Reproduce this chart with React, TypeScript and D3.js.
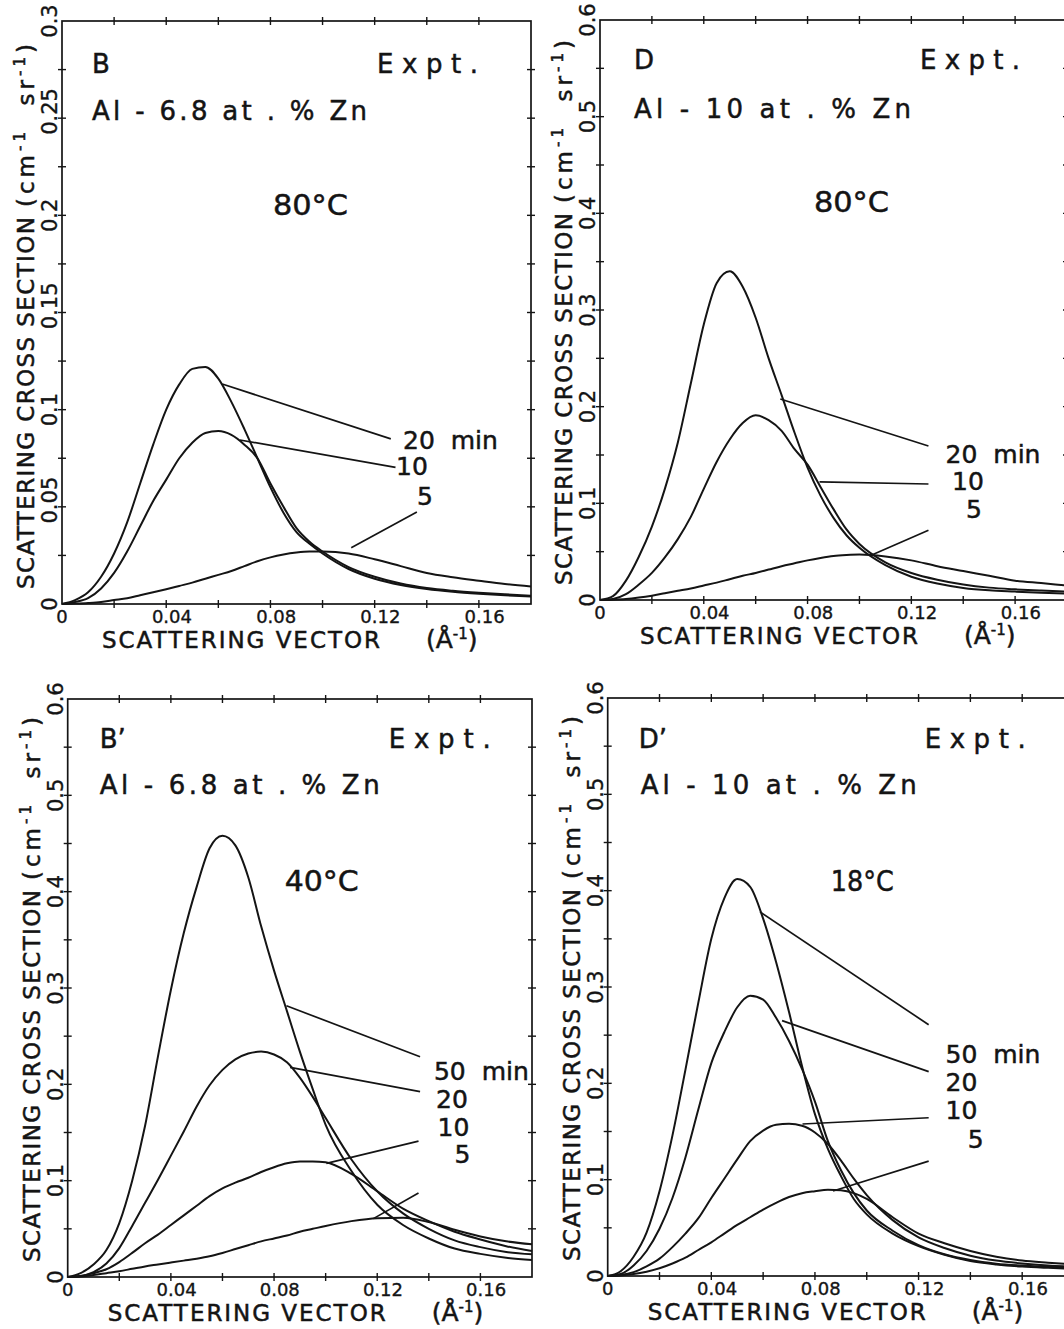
import React from 'react';
import * as d3 from 'd3';

// Scattering vector grid (Å⁻¹) shared by all curves
const Q = [0, 0.005, 0.01, 0.015, 0.02, 0.025, 0.03, 0.035, 0.04, 0.045, 0.05, 0.055, 0.06, 0.065, 0.07, 0.075, 0.08, 0.085, 0.09, 0.095, 0.1, 0.11, 0.12, 0.13, 0.14, 0.15, 0.16, 0.17, 0.18];

// Panel B : Al-6.8 at.% Zn, 80°C
const B_20 = [0, 0.002, 0.006, 0.014, 0.026, 0.042, 0.062, 0.082, 0.100, 0.113, 0.121, 0.122, 0.116, 0.104, 0.090, 0.075, 0.060, 0.047, 0.037, 0.031, 0.026, 0.018, 0.013, 0.0098, 0.0077, 0.0063, 0.0053, 0.0045, 0.0038];
const B_10 = [0, 0.001, 0.003, 0.008, 0.016, 0.027, 0.040, 0.053, 0.064, 0.075, 0.083, 0.088, 0.089, 0.087, 0.082, 0.075, 0.062, 0.050, 0.039, 0.032, 0.027, 0.019, 0.014, 0.0105, 0.0082, 0.0068, 0.0058, 0.005, 0.0043];
const B_5 = [0, 0.0002, 0.0005, 0.001, 0.002, 0.003, 0.0045, 0.006, 0.0076, 0.0093, 0.011, 0.013, 0.015, 0.017, 0.0195, 0.022, 0.024, 0.0255, 0.0265, 0.027, 0.027, 0.026, 0.023, 0.0195, 0.016, 0.0138, 0.012, 0.0103, 0.009];

// Panel D : Al-10 at.% Zn, 80°C
const D_20 = [0, 0.004, 0.020, 0.045, 0.076, 0.115, 0.163, 0.224, 0.285, 0.328, 0.340, 0.324, 0.292, 0.250, 0.212, 0.173, 0.137, 0.108, 0.085, 0.067, 0.054, 0.036, 0.024, 0.017, 0.0125, 0.010, 0.0087, 0.0075, 0.0065];
const D_10 = [0, 0.001, 0.006, 0.016, 0.028, 0.044, 0.063, 0.086, 0.115, 0.143, 0.166, 0.183, 0.191, 0.186, 0.175, 0.156, 0.140, 0.117, 0.094, 0.073, 0.058, 0.039, 0.028, 0.021, 0.016, 0.0128, 0.011, 0.0097, 0.0087];
const D_5 = [0, 0.0003, 0.001, 0.0025, 0.0045, 0.007, 0.0095, 0.012, 0.015, 0.018, 0.0215, 0.025, 0.028, 0.0315, 0.035, 0.038, 0.041, 0.0435, 0.0455, 0.0465, 0.047, 0.045, 0.041, 0.035, 0.030, 0.025, 0.020, 0.0175, 0.015];

// Panel B' : Al-6.8 at.% Zn, 40°C
const BP_50 = [0, 0.004, 0.013, 0.028, 0.056, 0.100, 0.157, 0.229, 0.298, 0.357, 0.405, 0.445, 0.458, 0.448, 0.415, 0.364, 0.318, 0.276, 0.234, 0.195, 0.158, 0.110, 0.075, 0.054, 0.040, 0.0295, 0.024, 0.020, 0.0177];
const BP_20 = [0, 0.001, 0.005, 0.014, 0.030, 0.053, 0.077, 0.101, 0.126, 0.151, 0.177, 0.199, 0.215, 0.226, 0.232, 0.234, 0.231, 0.223, 0.207, 0.187, 0.165, 0.122, 0.089, 0.066, 0.050, 0.038, 0.031, 0.026, 0.0235];
const BP_10 = [0, 0.001, 0.004, 0.008, 0.0155, 0.025, 0.035, 0.044, 0.054, 0.064, 0.074, 0.084, 0.092, 0.098, 0.103, 0.109, 0.114, 0.118, 0.120, 0.120, 0.119, 0.107, 0.089, 0.071, 0.058, 0.047, 0.039, 0.032, 0.027];
const BP_5 = [0, 0.0005, 0.002, 0.004, 0.006, 0.0085, 0.011, 0.013, 0.015, 0.017, 0.019, 0.0215, 0.025, 0.029, 0.033, 0.037, 0.040, 0.043, 0.047, 0.050, 0.053, 0.058, 0.061, 0.0615, 0.057, 0.049, 0.042, 0.037, 0.034];

// Panel D' : Al-10 at.% Zn, 18°C
const DP_50 = [0, 0.005, 0.020, 0.045, 0.088, 0.146, 0.214, 0.284, 0.350, 0.392, 0.412, 0.404, 0.371, 0.326, 0.274, 0.218, 0.168, 0.132, 0.104, 0.080, 0.064, 0.044, 0.031, 0.022, 0.0155, 0.012, 0.0098, 0.0085, 0.0075];
const DP_20 = [0, 0.002, 0.011, 0.026, 0.049, 0.081, 0.123, 0.173, 0.221, 0.253, 0.279, 0.291, 0.287, 0.268, 0.244, 0.215, 0.181, 0.140, 0.110, 0.086, 0.068, 0.047, 0.032, 0.0225, 0.0165, 0.0128, 0.0108, 0.0095, 0.0088];
const DP_10 = [0, 0.001, 0.004, 0.010, 0.018, 0.030, 0.044, 0.060, 0.081, 0.101, 0.121, 0.140, 0.151, 0.157, 0.158, 0.156, 0.149, 0.137, 0.120, 0.101, 0.084, 0.058, 0.040, 0.029, 0.021, 0.016, 0.013, 0.011, 0.0097];
const DP_5 = [0, 0.0005, 0.002, 0.0045, 0.008, 0.013, 0.019, 0.027, 0.035, 0.044, 0.053, 0.061, 0.069, 0.076, 0.082, 0.086, 0.088, 0.0895, 0.089, 0.086, 0.080, 0.061, 0.044, 0.034, 0.026, 0.020, 0.016, 0.0138, 0.012];

// Leader lines [q1, I1, q2, I2]
const B_LEADERS = [[0.0615, 0.1132, 0.1262, 0.085], [0.0683, 0.0844, 0.128, 0.0703], [0.111, 0.029, 0.1362, 0.0473]];
const D_LEADERS = [[0.0695, 0.2079, 0.1266, 0.1593], [0.0846, 0.1221, 0.1266, 0.12], [0.1043, 0.046, 0.1266, 0.0721]];
const BP_LEADERS = [[0.0848, 0.2816, 0.1366, 0.2286], [0.0862, 0.2176, 0.1366, 0.1924], [0.1003, 0.118, 0.136, 0.141], [0.1185, 0.0606, 0.136, 0.0872]];
const DP_LEADERS = [[0.0588, 0.378, 0.1239, 0.2608], [0.0673, 0.2651, 0.1239, 0.2121], [0.0752, 0.1578, 0.1239, 0.1643], [0.087, 0.0882, 0.1239, 0.1193]];

// Curve labels: text, q, I (baseline start)
const B_LABELS = [["20  min", 0.1309, 0.0798], ["10", 0.1282, 0.0664], ["5", 0.1362, 0.0509]];
const D_LABELS = [["20  min", 0.1332, 0.1417], ["10", 0.1357, 0.1138], ["5", 0.1411, 0.0851]];
const BP_LABELS = [["50  min", 0.142, 0.2045], ["20", 0.1428, 0.1754], ["10", 0.1434, 0.1464], ["5", 0.150, 0.1183]];
const DP_LABELS = [["50  min", 0.1304, 0.2211], ["20", 0.1304, 0.192], ["10", 0.1304, 0.163], ["5", 0.139, 0.133]];

const X_LABELS = [0.04, 0.08, 0.12, 0.16];
const Q_MAX = 0.18;

const FONT = "'DejaVu Sans', 'Liberation Sans', sans-serif";
const INK = '#141414';

const PANELS = [
  { key: 'B', x0: 62, x1: 531, yb: 604, yt: 21, ymax: 0.3, major: 0.05, minor: 0.025,
    series: [B_20, B_10, B_5], leaders: B_LEADERS, labels: B_LABELS,
    letter: 'B', alloy: 'Al - 6.8 at . % Zn', temp: '80°C',
    lay: { lx: 30, ly: 52, ex: 315, ew: 101, ax: 30, ay: 99, aw: 275, tx: 211, ty: 194, tw: 75 } },
  { key: 'D', x0: 600, x1: 1067, yb: 600, yt: 20, ymax: 0.6, major: 0.1, minor: 0.05,
    series: [D_20, D_10, D_5], leaders: D_LEADERS, labels: D_LABELS,
    letter: 'D', alloy: 'Al - 10 at . % Zn', temp: '80°C',
    lay: { lx: 34, ly: 49, ex: 320, ew: 100, ax: 34, ay: 98, aw: 277, tx: 214, ty: 192, tw: 75 } },
  { key: 'Bp', x0: 67.7, x1: 532, yb: 1277, yt: 699, ymax: 0.6, major: 0.1, minor: 0.05,
    series: [BP_50, BP_20, BP_10, BP_5], leaders: BP_LEADERS, labels: BP_LABELS,
    letter: 'B\u2019', alloy: 'Al - 6.8 at . % Zn', temp: '40°C',
    lay: { lx: 32, ly: 49, ex: 321, ew: 102, ax: 32, ay: 95, aw: 280, tx: 217, ty: 192, tw: 74 } },
  { key: 'Dp', x0: 607.7, x1: 1074, yb: 1276, yt: 698, ymax: 0.6, major: 0.1, minor: 0.05,
    series: [DP_50, DP_20, DP_10, DP_5], leaders: DP_LEADERS, labels: DP_LABELS,
    letter: 'D\u2019', alloy: 'Al - 10 at . % Zn', temp: '18°C',
    lay: { lx: 31, ly: 50, ex: 317, ew: 101, ax: 33, ay: 96, aw: 276, tx: 223, ty: 193, tw: 63 } },
];

const fmtY = d3.format('~g');
const fmtX = d3.format('.2f');

function Panel({ p }: { p: any }) {
  const x = d3.scaleLinear().domain([0, Q_MAX]).range([p.x0, p.x1]);
  const y = d3.scaleLinear().domain([0, p.ymax]).range([p.yb, p.yt]);
  const line = d3.line<number>().x((_, i) => x(Q[i])).y((d) => y(d)).curve(d3.curveMonotoneX);
  const xTicks = d3.range(1, 9).map((i) => i * 0.02);
  const nMinor = Math.round(p.ymax / p.minor);
  const yTicks = d3.range(1, nMinor).map((i) => i * p.minor);
  const nMajor = Math.round(p.ymax / p.major);
  const yLabels = d3.range(1, nMajor + 1).map((i) => i * p.major);
  const T = 4;
  const xfs = 18;
  const yfs = 21;
  const L = p.lay;
  const textStroke = { stroke: INK, strokeWidth: 0.5 };
  return (
    <g>
      <rect x={p.x0} y={p.yt} width={p.x1 - p.x0} height={p.yb - p.yt} fill="none" stroke={INK} strokeWidth={1.7} />
      {xTicks.map((t, i) => (
        <g key={'xt' + i} stroke={INK} strokeWidth={1.4}>
          <line x1={x(t)} x2={x(t)} y1={p.yb - T} y2={p.yb + T} />
          <line x1={x(t)} x2={x(t)} y1={p.yt - T} y2={p.yt + T} />
        </g>
      ))}
      {yTicks.map((t, i) => (
        <g key={'yt' + i} stroke={INK} strokeWidth={1.4}>
          <line x1={p.x0 - T} x2={p.x0 + T} y1={y(t)} y2={y(t)} />
          <line x1={p.x1 - T} x2={p.x1 + T} y1={y(t)} y2={y(t)} />
        </g>
      ))}
      {/* tick labels, decimal point on the tick */}
      <g fontFamily={FONT} fill={INK} {...textStroke} strokeWidth={0.35}>
        <text x={p.x0} y={p.yb + 19} fontSize={xfs} textAnchor="middle">0</text>
        {X_LABELS.map((t, i) => (
          <text key={'xl' + i} x={x(t) - 0.795 * xfs} y={p.yb + 19} fontSize={xfs}>{fmtX(t)}</text>
        ))}
        <text transform={`translate(${p.x0 - 5},${p.yb}) rotate(-90)`} fontSize={yfs} textAnchor="middle">0</text>
        {yLabels.map((t, i) => (
          <text key={'yl' + i} transform={`translate(${p.x0 - 5},${y(t)}) rotate(-90)`} x={-0.795 * yfs} fontSize={yfs}>{fmtY(t)}</text>
        ))}
      </g>
      {/* axis titles */}
      <g fontFamily={FONT} fill={INK} {...textStroke}>
        <text x={p.x0 + 40} y={p.yb + 44} fontSize={23} textLength={278} lengthAdjust="spacing">SCATTERING VECTOR</text>
        <text x={p.x0 + 364} y={p.yb + 44} fontSize={25}>
          (Å<tspan dy={-9} fontSize={15}>-1</tspan><tspan dy={9}>)</tspan>
        </text>
      </g>
      <g fontFamily={FONT} fill={INK} {...textStroke}>
        <text transform={`translate(${p.x0 - 28},${p.yb - 15}) rotate(-90)`} fontSize={23} textLength={372} lengthAdjust="spacing">SCATTERING CROSS SECTION</text>
        <text transform={`translate(${p.x0 - 28},${p.yb - 397}) rotate(-90)`} fontSize={23} textLength={163} lengthAdjust="spacing" style={{ whiteSpace: 'pre' }}>
          (cm<tspan dy={-9} fontSize={15}>-1</tspan><tspan dy={9}>{'  sr'}</tspan><tspan dy={-9} fontSize={15}>-1</tspan><tspan dy={9}>)</tspan>
        </text>
      </g>
      {/* curves */}
      {p.series.map((s: number[], i: number) => (
        <path key={'s' + i} d={line(s) || ''} fill="none" stroke={INK} strokeWidth={2} strokeLinejoin="round" />
      ))}
      {p.leaders.map((l: number[], i: number) => (
        <line key={'ld' + i} x1={x(l[0])} y1={y(l[1])} x2={x(l[2])} y2={y(l[3])} stroke={INK} strokeWidth={1.7} />
      ))}
      <g fontFamily={FONT} fontSize={25} fill={INK} {...textStroke}>
        {p.labels.map((lb: any[], i: number) => (
          <text key={'lb' + i} x={x(lb[1])} y={y(lb[2])} style={{ whiteSpace: 'pre' }}>{lb[0]}</text>
        ))}
      </g>
      {/* panel annotations */}
      <g fontFamily={FONT} fill={INK} {...textStroke}>
        <text x={p.x0 + L.lx} y={p.yt + L.ly} fontSize={26}>{p.letter}</text>
        <text x={p.x0 + L.ex} y={p.yt + L.ly} fontSize={26} textLength={L.ew} lengthAdjust="spacing">Expt.</text>
        <text x={p.x0 + L.ax} y={p.yt + L.ay} fontSize={26} textLength={L.aw} lengthAdjust="spacing" style={{ whiteSpace: 'pre' }}>{p.alloy}</text>
        <text x={p.x0 + L.tx} y={p.yt + L.ty} fontSize={29} textLength={L.tw} lengthAdjust="spacingAndGlyphs">{p.temp}</text>
      </g>
    </g>
  );
}

export default function App() {
  return (
    <svg width={1064} height={1329} viewBox="0 0 1064 1329"
      style={{ position: 'absolute', left: 0, top: 0, background: '#fff' }}>
      <rect x={0} y={0} width={1064} height={1329} fill="#fff" />
      {PANELS.map((p) => <Panel key={p.key} p={p} />)}
    </svg>
  );
}
